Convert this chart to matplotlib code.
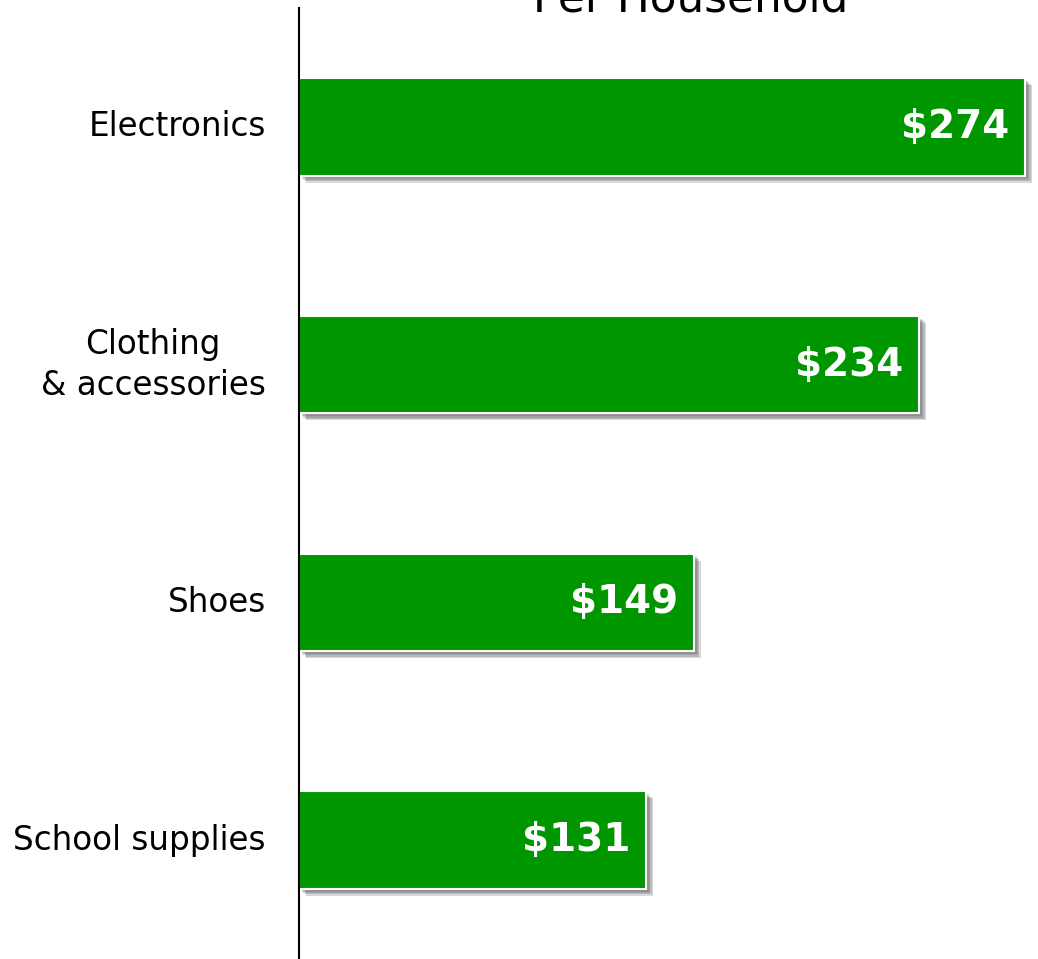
import numpy as np
import matplotlib
matplotlib.use("Agg")
import matplotlib.pyplot as plt
import matplotlib.patheffects as pe

categories = ["Electronics", "Clothing\n& accessories", "Shoes", "School supplies"]
spend = [274, 234, 149, 131]
value_labels = ["$274", "$234", "$149", "$131"]

fig = plt.figure(figsize=(10.38, 9.59), dpi=100)
ax = fig.add_axes([299 / 1038, 0, 1 - 299 / 1038, (959 - 8) / 959])

y = np.arange(len(categories))
bars = ax.barh(y, spend, height=0.41, color="#009600", edgecolor="white", linewidth=1.5)
# soft drop shadow: a few stacked faint layers
shadow = [pe.SimplePatchShadow(offset=(d, -d), shadow_rgbFace="#505050", alpha=0.22) for d in (5, 4, 3, 2)]
for b in bars:
    b.set_path_effects(shadow + [pe.Normal()])

for b, lab in zip(bars, value_labels):
    ax.text(b.get_width() - 16 / 2.65, b.get_y() + b.get_height() / 2, lab,
            ha="right", va="center", color="white", fontsize=28, fontweight="bold")

ax.set_xlim(0, (1038 - 299) / 2.65)
ax.set_ylim(3.5, -0.5)
ax.set_yticks(y)
ax.set_yticklabels(categories, fontsize=23.5, ha="right", va="center",
                   multialignment="center", linespacing=1.3)
ax.tick_params(axis="y", length=0, pad=24)
ax.set_xticks([])
for s in ["top", "right", "bottom"]:
    ax.spines[s].set_visible(False)
ax.spines["left"].set_linewidth(1.5)

fig.text(691 / 1038, 1 - 12 / 959, "Per Household", ha="center", va="baseline", fontsize=31.5)

fig.savefig("out.png", dpi=100)
